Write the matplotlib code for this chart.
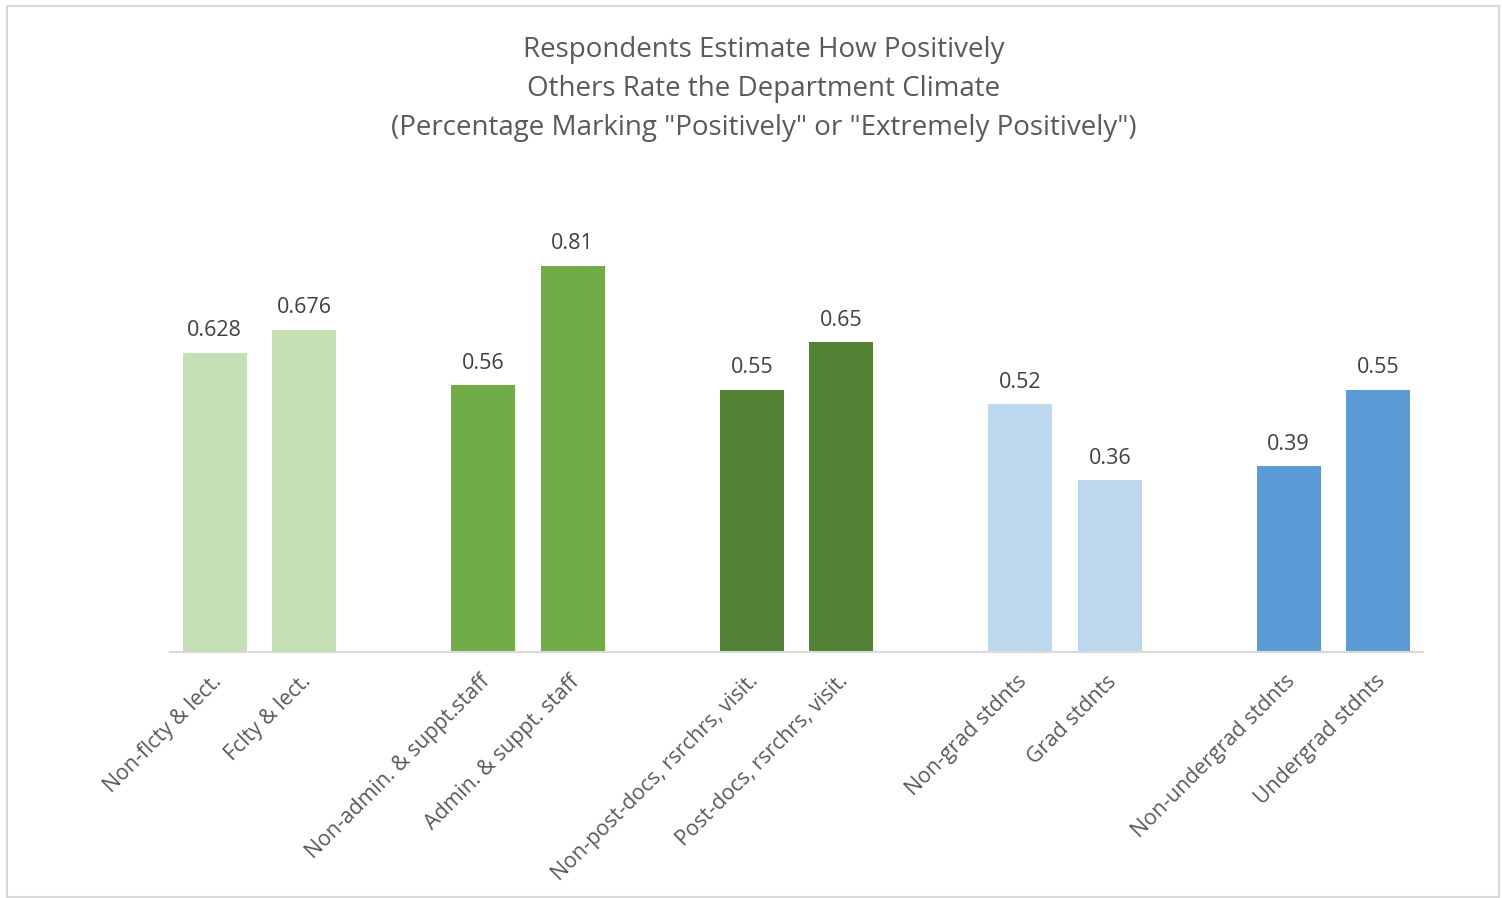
import numpy as np
import matplotlib.pyplot as plt
from matplotlib.patches import Rectangle

# categories (empty strings are the gaps between the groups)
labels = ["Non-flcty & lect.", "Fclty & lect.", "",
          "Non-admin. & suppt.staff", "Admin. & suppt. staff", "",
          "Non-post-docs, rsrchrs, visit.", "Post-docs, rsrchrs, visit.", "",
          "Non-grad stdnts", "Grad stdnts", "",
          "Non-undergrad stdnts", "Undergrad stdnts"]
values = [0.628, 0.676, None, 0.56, 0.81, None, 0.55, 0.65, None,
          0.52, 0.36, None, 0.39, 0.55]
value_text = ["0.628", "0.676", "", "0.56", "0.81", "", "0.55", "0.65", "",
              "0.52", "0.36", "", "0.39", "0.55"]
colors = ["#C5E0B4", "#C5E0B4", "w", "#70AD47", "#70AD47", "w",
          "#548235", "#548235", "w", "#BDD7EE", "#BDD7EE", "w",
          "#5B9BD5", "#5B9BD5"]

plt.rcParams['font.family'] = ['Open Sans', 'DejaVu Sans']
txt = "#595959"

fig = plt.figure(figsize=(15.02, 8.98), dpi=100)
ax = fig.add_axes([170 / 1502, 1 - 652 / 898, 1253 / 1502, 429 / 898])

x = np.arange(len(labels))
for i, v in enumerate(values):
    if v is None:
        continue
    ax.bar(x[i], v, width=0.71, color=colors[i])
    ax.text(x[i], v + 0.024, value_text[i], ha='center', va='bottom',
            fontsize=15.5, color="#404040")

ax.set_xlim(-0.5, len(labels) - 0.5)
ax.set_ylim(0, 0.9)
ax.set_yticks([])
for s in ["top", "right", "left"]:
    ax.spines[s].set_visible(False)
ax.spines["bottom"].set_color("#D9D9D9")
ax.spines["bottom"].set_linewidth(1.5)

ax.set_xticks(x + 0.04)
ax.set_xticklabels(labels, rotation=45, ha='right', va='center',
                   rotation_mode='anchor', fontsize=15.3, color=txt)
ax.tick_params(axis='x', length=0, pad=19)

fig.text(764 / 1502, 1 - 50 / 898, "Respondents Estimate How Positively",
         ha='center', va='center', fontsize=20, color=txt)
fig.text(764 / 1502, 1 - 89 / 898, "Others Rate the Department Climate",
         ha='center', va='center', fontsize=20, color=txt)
fig.text(764 / 1502, 1 - 128 / 898,
         '(Percentage Marking "Positively" or "Extremely Positively")',
         ha='center', va='center', fontsize=20, color=txt)

fig.patches.append(Rectangle((7 / 1502, 1 / 898), 1492 / 1502, 891 / 898,
                             transform=fig.transFigure, fill=False,
                             edgecolor="#D9D9D9", linewidth=1.5))

plt.savefig("out.png", dpi=100)
